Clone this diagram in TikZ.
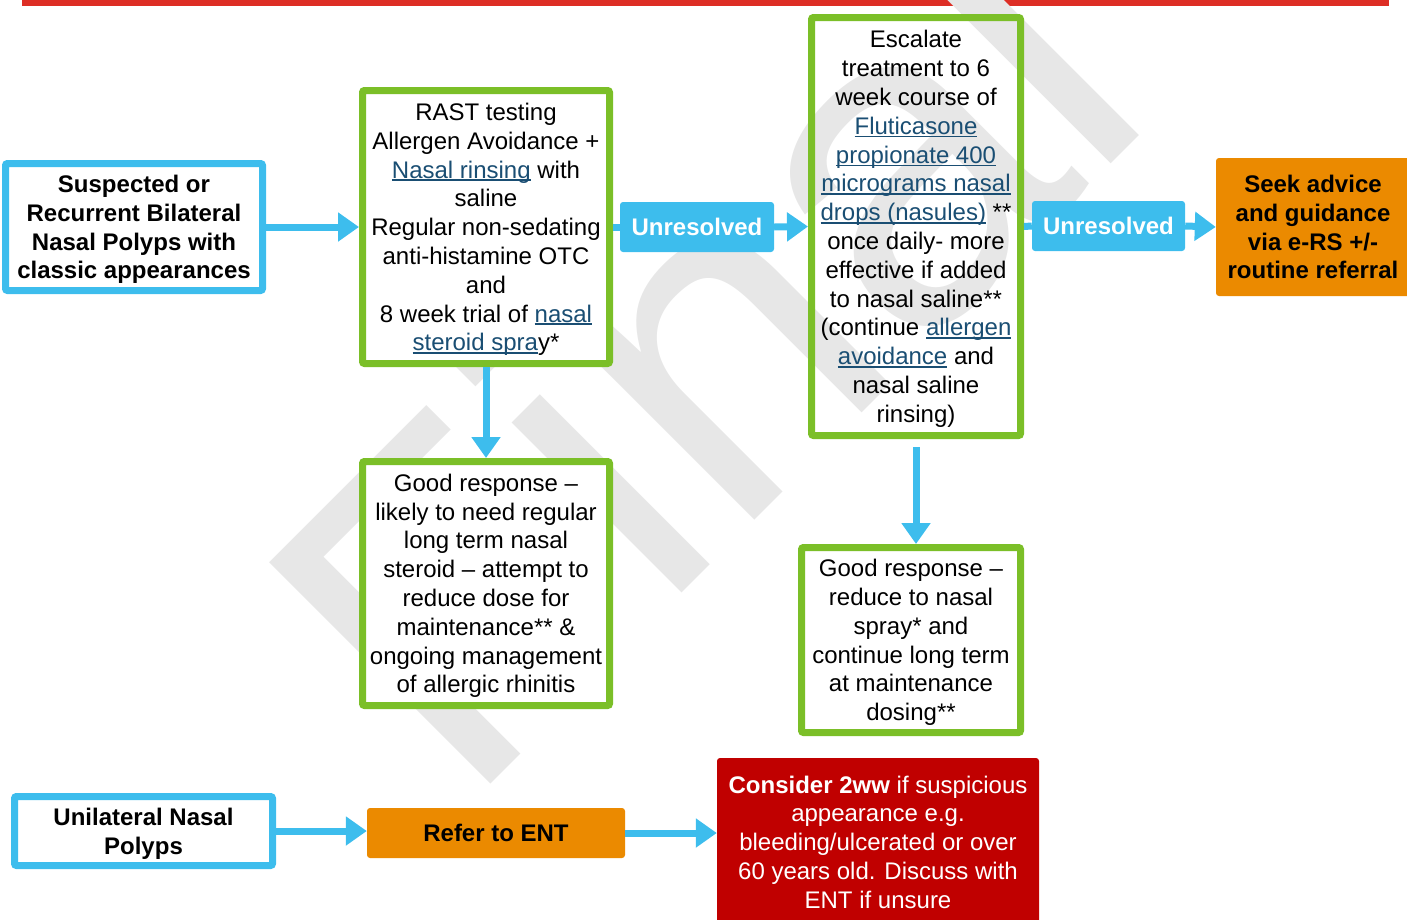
\documentclass[tikz,border=0pt]{standalone}
\usepackage{fontspec}
\setmainfont{Liberation Sans}
\usetikzlibrary{arrows.meta,calc}

\definecolor{bluec}{HTML}{3DBDED}
\definecolor{greenc}{HTML}{7BBF28}
\definecolor{orangec}{HTML}{EB8A00}
\definecolor{redbox}{HTML}{C00000}
\definecolor{topred}{HTML}{DD2E25}
\definecolor{linkc}{HTML}{1A4E73}
\definecolor{wmgray}{HTML}{E7E7E7}

% hyperlink-style text: coloured, with an underline at a fixed depth
\newcommand\lnk[1]{\textcolor{linkc}{\setbox0=\hbox{#1}\rlap{\rule[-2.8pt]{\wd0}{1.4pt}}\box0}}
% struts that fix the height of the first line and the depth of the last one
\newcommand\topstrut{\rule{0pt}{22.7pt}}
\newcommand\botstrut{\rule[-5.5pt]{0pt}{0pt}}

\begin{document}
\begin{tikzpicture}[x=1pt,y=-1pt,
  boxtext/.style={inner sep=0pt, align=center},
  gbox/.style={draw=greenc, line width=7pt, fill=white, rounded corners=2pt,
               boxtext, font=\fontsize{24}{28.8}\selectfont},
  bbox/.style={draw=bluec, line width=7pt, fill=white, rounded corners=2pt,
               boxtext, font=\fontsize{24}{28.8}\selectfont\bfseries},
  tag/.style={fill=bluec, rounded corners=3pt, boxtext, text=white,
              font=\fontsize{24}{28.8}\selectfont\bfseries},
  obox/.style={fill=orangec, rounded corners=3pt, boxtext,
               font=\fontsize{24}{28.8}\selectfont\bfseries},
  rbox/.style={fill=redbox, rounded corners=3pt, boxtext, text=white,
               font=\fontsize{24}{28.8}\selectfont},
  arr/.style={draw=bluec, line width=7pt, -{Triangle[length=21pt,width=28pt]}},
  stub/.style={draw=bluec, line width=7pt},
  wmark/.style={rotate=45, anchor=base west, inner sep=0pt, text=wmgray,
                font=\fontsize{455}{455}\selectfont}]

\useasboundingbox (0,0) rectangle (1407,919);

% red rule along the top edge
\fill[topred] (22,-2) rectangle (1389,6);

% background watermark
\node[wmark] (wm) at (464,811) {Final};

% boxes
\node[bbox, minimum width=257, minimum height=127] (susp) at (134,227)
  {\topstrut Suspected or\\Recurrent Bilateral\\Nasal Polyps with\\classic appearances\botstrut};

\node[gbox, minimum width=247, minimum height=273] (rast) at (486,227)
  {\topstrut RAST testing\\Allergen Avoidance +\\\lnk{Nasal rinsing} with\\saline\\
   Regular non-sedating\\anti-histamine OTC\\and\\8 week trial of \lnk{nasal}\\
   \lnk{steroid spra}y*\botstrut};

\node[tag, minimum width=154, minimum height=50] (un1) at (697,227)
  {\topstrut Unresolved\botstrut};

\node[gbox, fill=none, minimum width=209, minimum height=418] (esc) at (916,226.5)
  {\topstrut Escalate\\treatment to 6\\week course of\\\lnk{Fluticasone}\\\lnk{propionate 400}\\
   \lnk{micrograms nasal}\\\lnk{drops (nasules)} **\\once daily- more\\
   effective if added\\to nasal saline**\\(continue \lnk{allergen}\\
   \lnk{avoidance} and\\nasal saline\\rinsing)\botstrut};

\node[tag, minimum width=153, minimum height=50] (un2) at (1108.5,226)
  {\topstrut Unresolved\botstrut};

\node[obox, minimum width=194, minimum height=138] (seek) at (1313,227)
  {\topstrut Seek advice\\and guidance\\via e-RS +/-\\routine referral\botstrut};

\node[gbox, minimum width=247, minimum height=244] (gr1) at (486,583.5)
  {\topstrut Good response --\\likely to need regular\\long term nasal\\steroid -- attempt to\\
   reduce dose for\\maintenance** \&\\ongoing management\\of allergic rhinitis\botstrut};

\node[gbox, minimum width=219, minimum height=185] (gr2) at (911,640)
  {\topstrut Good response --\\reduce to nasal\\spray* and\\continue long term\\
   at maintenance\\dosing**\botstrut};

\node[bbox, minimum width=258, minimum height=69] (unil) at (143.5,831)
  {\topstrut Unilateral Nasal\\Polyps\botstrut};

\node[obox, minimum width=258, minimum height=50] (ent) at (496,833)
  {\topstrut Refer to ENT\botstrut};

\node[rbox, minimum width=322, minimum height=168] (twoww) at (878,842)
  {\topstrut\textbf{Consider 2ww} if suspicious\\appearance e.g.\\bleeding/ulcerated or over\\
   60 years old. Discuss with\\ENT if unsure\botstrut};

% connectors
\draw[arr] (susp.east) -- (rast.west);
\draw[stub] (rast.east) -- (un1.west);
\draw[arr] (un1.east) -- (esc.west);
\draw[stub] (esc.east) -- (un2.west);
\draw[arr] (un2.east) -- (seek.west);
\draw[arr] (rast.south) -- (gr1.north);
\draw[arr, shorten <=8pt] (esc.south) -- (esc.south |- gr2.north);
\draw[arr] (unil.east) -- (unil.east -| ent.west);
\draw[arr] (ent.east) -- (ent.east -| twoww.west);

\end{tikzpicture}
\end{document}
